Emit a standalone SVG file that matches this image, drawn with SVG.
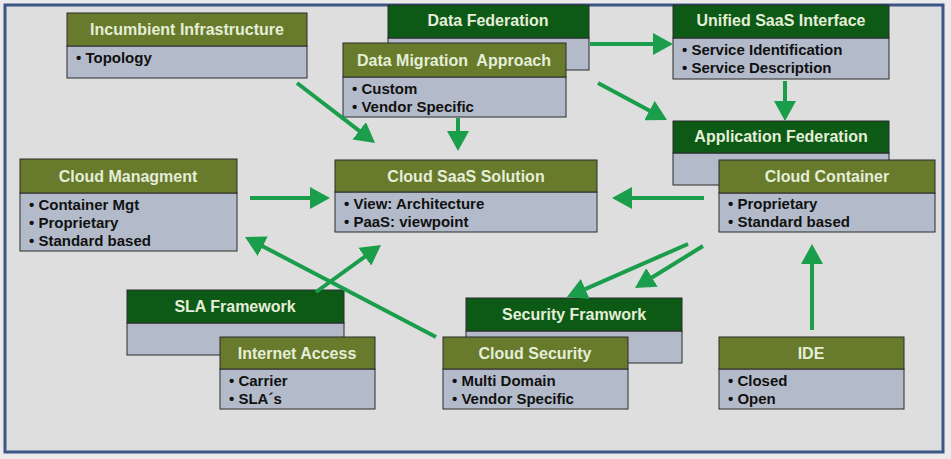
<svg xmlns="http://www.w3.org/2000/svg" width="951" height="459" viewBox="0 0 951 459">
<style>
.hd-o{fill:#687a2b;stroke:#2a2a2a;stroke-width:1}
.hd-g{fill:#0d5a16;stroke:#2a2a2a;stroke-width:1}
.bd{fill:#b3bbca;stroke:#2a2a2a;stroke-width:1}
.tt{font-family:"Liberation Sans",Arial,sans-serif;font-weight:bold;font-size:16px;fill:#e4eed8;text-anchor:middle}
.bt{font-family:"Liberation Sans",Arial,sans-serif;font-weight:bold;font-size:15px;fill:#111111}
.cn{stroke:#1b9e4b;stroke-width:4;fill:none;marker-end:url(#ah)}
</style>
<defs>
<marker id="ah" markerUnits="userSpaceOnUse" viewBox="0 0 20 22" refX="12" refY="11" markerWidth="20" markerHeight="22" orient="auto">
<path d="M0,0 L20,11 L0,22 z" fill="#1b9e4b"/>
</marker>
</defs>
<rect x="0" y="0" width="951" height="459" fill="#ebebeb"/>
<rect x="5" y="5" width="938" height="447" fill="#dedede" stroke="#3c5688" stroke-width="3"/>

<g id="incumbent-infrastructure">
<rect class="bd" x="67" y="46" width="240" height="32"/>
<rect class="hd-o" x="67" y="13" width="240" height="33"/>
<text class="tt" x="187" y="35">Incumbient Infrastructure</text>
<text class="bt" x="76" y="63">• Topology</text>
</g>

<g id="data-federation">
<rect class="bd" x="388" y="38" width="201" height="32"/>
<rect class="hd-g" x="388" y="5" width="201" height="33"/>
<text class="tt" x="488" y="26">Data Federation</text>
</g>

<g id="data-migration-approach">
<rect class="bd" x="343" y="77" width="223" height="40"/>
<rect class="hd-o" x="343" y="43" width="223" height="34"/>
<text class="tt" x="454" y="66">Data Migration&#160; Approach</text>
<text class="bt" x="352" y="94">• Custom</text>
<text class="bt" x="352" y="112">• Vendor Specific</text>
</g>

<g id="unified-saas-interface">
<rect class="bd" x="673" y="38" width="216" height="41"/>
<rect class="hd-g" x="673" y="5" width="216" height="33"/>
<text class="tt" x="781" y="26">Unified SaaS Interface</text>
<text class="bt" x="682" y="55">• Service Identification</text>
<text class="bt" x="682" y="73">• Service Description</text>
</g>

<g id="application-federation">
<rect class="bd" x="673" y="153" width="216" height="32"/>
<rect class="hd-g" x="673" y="121" width="216" height="32"/>
<text class="tt" x="781" y="142">Application Federation</text>
</g>

<g id="cloud-container">
<rect class="bd" x="719" y="193" width="216" height="39"/>
<rect class="hd-o" x="719" y="160" width="216" height="33"/>
<text class="tt" x="827" y="182">Cloud Container</text>
<text class="bt" x="728" y="209">• Proprietary</text>
<text class="bt" x="728" y="227">• Standard based</text>
</g>

<g id="cloud-managment">
<rect class="bd" x="20" y="193" width="217" height="58"/>
<rect class="hd-o" x="20" y="159" width="217" height="34"/>
<text class="tt" x="128" y="182">Cloud Managment</text>
<text class="bt" x="29" y="210">• Container Mgt</text>
<text class="bt" x="29" y="228">• Proprietary</text>
<text class="bt" x="29" y="246">• Standard based</text>
</g>

<g id="cloud-saas-solution">
<rect class="bd" x="335" y="192" width="262" height="40"/>
<rect class="hd-o" x="335" y="160" width="262" height="32"/>
<text class="tt" x="466" y="182">Cloud SaaS Solution</text>
<text class="bt" x="344" y="209">• View: Architecture</text>
<text class="bt" x="344" y="227">• PaaS: viewpoint</text>
</g>

<g id="sla-framework">
<rect class="bd" x="127" y="323" width="217" height="32"/>
<rect class="hd-g" x="127" y="290" width="217" height="33"/>
<text class="tt" x="235" y="312">SLA Framework</text>
</g>

<g id="internet-access">
<rect class="bd" x="220" y="369" width="155" height="40"/>
<rect class="hd-o" x="220" y="337" width="155" height="32"/>
<text class="tt" x="297" y="359">Internet Access</text>
<text class="bt" x="229" y="386">• Carrier</text>
<text class="bt" x="229" y="404">• SLA´s</text>
</g>

<g id="security-framwork">
<rect class="bd" x="466" y="331" width="216" height="32"/>
<rect class="hd-g" x="466" y="298" width="216" height="33"/>
<text class="tt" x="574" y="320">Security Framwork</text>
</g>

<g id="cloud-security">
<rect class="bd" x="443" y="369" width="185" height="40"/>
<rect class="hd-o" x="443" y="337" width="185" height="32"/>
<text class="tt" x="535" y="359">Cloud Security</text>
<text class="bt" x="452" y="386">• Multi Domain</text>
<text class="bt" x="452" y="404">• Vendor Specific</text>
</g>

<g id="ide">
<rect class="bd" x="719" y="369" width="185" height="40"/>
<rect class="hd-o" x="719" y="337" width="185" height="32"/>
<text class="tt" x="811" y="359">IDE</text>
<text class="bt" x="728" y="386">• Closed</text>
<text class="bt" x="728" y="404">• Open</text>
</g>

<g id="connectors">
<line class="cn" x1="297" y1="83" x2="368.7" y2="138.1"/>
<line class="cn" x1="458" y1="118" x2="458" y2="143"/>
<line class="cn" x1="590" y1="44" x2="665" y2="44"/>
<line class="cn" x1="598" y1="83" x2="660" y2="116.2"/>
<line class="cn" x1="785" y1="81" x2="785" y2="113"/>
<line class="cn" x1="250" y1="198" x2="322" y2="198"/>
<line class="cn" x1="704" y1="198" x2="620" y2="198"/>
<line class="cn" x1="436" y1="337" x2="252.1" y2="240.7"/>
<line class="cn" x1="316" y1="292" x2="374.5" y2="249.7"/>
<line class="cn" x1="688" y1="244" x2="574.3" y2="293.8"/>
<line class="cn" x1="703" y1="246" x2="641.8" y2="283.8"/>
<line class="cn" x1="812" y1="330" x2="812" y2="252"/>
</g>
</svg>
